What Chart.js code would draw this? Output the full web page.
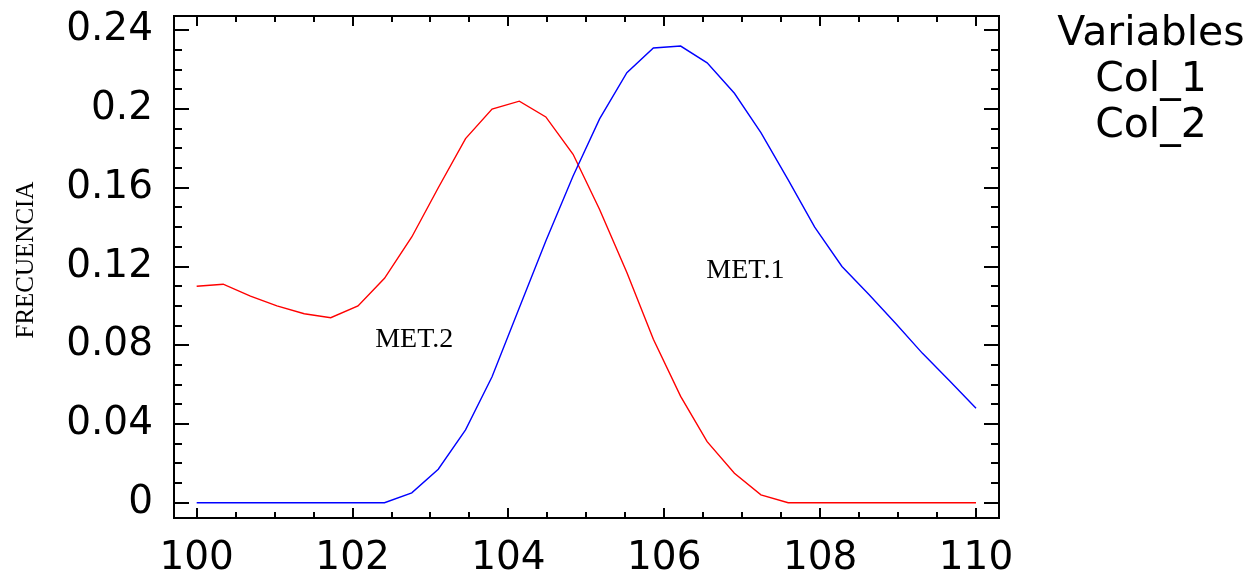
<!DOCTYPE html>
<html>
<head>
    <title>Frecuencia MET.1 / MET.2</title>
    <script src="https://cdn.jsdelivr.net/npm/chart.js"></script>
    <style>
        html, body {
            margin: 0;
            padding: 0;
            background: #ffffff;
        }
        #wrap {
            position: relative;
            width: 1251px;
            height: 573px;
        }
    </style>
</head>
<body>
<div id="wrap"><canvas id="chart"></canvas></div>

<script>
    // x positions of the density points (30 points from 100 to 110)
    var xValues = [100, 100.34, 100.69, 101.03, 101.38, 101.72, 102.07, 102.41, 102.76, 103.10,
        103.45, 103.79, 104.14, 104.48, 104.83, 105.17, 105.52, 105.86, 106.21, 106.55,
        106.90, 107.24, 107.59, 107.93, 108.28, 108.62, 108.97, 109.31, 109.66, 110];

    // Col_1 (blue, MET.1)
    var col1 = [0, 0, 0, 0, 0, 0, 0, 0, 0.005, 0.017,
        0.037, 0.064, 0.099, 0.133, 0.166, 0.195, 0.2185, 0.231, 0.232, 0.2235,
        0.208, 0.188, 0.164, 0.140, 0.120, 0.106, 0.091, 0.076, 0.062, 0.048];

    // Col_2 (red, MET.2)
    var col2 = [0.110, 0.111, 0.105, 0.100, 0.096, 0.094, 0.100, 0.114, 0.135, 0.160,
        0.185, 0.200, 0.204, 0.196, 0.177, 0.149, 0.117, 0.083, 0.054, 0.031,
        0.015, 0.004, 0, 0, 0, 0, 0, 0, 0, 0];

    var xTicks = [100, 102, 104, 106, 108, 110];
    var xTickLabels = ['100', '102', '104', '106', '108', '110'];
    var yTicks = [0, 0.04, 0.08, 0.12, 0.16, 0.2, 0.24];
    var yTickLabels = ['0', '0.04', '0.08', '0.12', '0.16', '0.2', '0.24'];
    var xMinorStep = 0.5;
    var yMinorStep = 0.01;

    var legendLines = ['Variables', 'Col_1', 'Col_2'];
    var yTitle = 'FRECUENCIA';
    // curve labels, placed in data units
    var curveLabels = [
        { text: 'MET.1', x: 106.54, y: 0.114 },
        { text: 'MET.2', x: 102.29, y: 0.079 }
    ];

    // frame, inward ticks on all four sides, labels and legend text
    var decorPlugin = {
        id: 'decor',
        afterDraw: function (chart) {
            var ctx = chart.ctx;
            var a = chart.chartArea;
            var xs = chart.scales.x;
            var ys = chart.scales.y;
            ctx.save();
            ctx.strokeStyle = '#000';
            ctx.lineWidth = 2;
            ctx.strokeRect(a.left, a.top, a.right - a.left, a.bottom - a.top);

            ctx.beginPath();
            for (var v = xTicks[0]; v <= xTicks[xTicks.length - 1] + 1e-9; v += xMinorStep) {
                var px = Math.round(xs.getPixelForValue(v));
                var major = xTicks.some(function (t) { return Math.abs(t - v) < 1e-6; });
                var len = major ? 10 : 6;
                ctx.moveTo(px, a.bottom);
                ctx.lineTo(px, a.bottom - len);
                ctx.moveTo(px, a.top);
                ctx.lineTo(px, a.top + len);
            }
            for (var w = yTicks[0]; w <= yTicks[yTicks.length - 1] + 1e-9; w += yMinorStep) {
                var py = Math.round(ys.getPixelForValue(w));
                var majorY = yTicks.some(function (t) { return Math.abs(t - w) < 1e-6; });
                var lenY = majorY ? 15 : 8;
                ctx.moveTo(a.left, py);
                ctx.lineTo(a.left + lenY, py);
                ctx.moveTo(a.right, py);
                ctx.lineTo(a.right - lenY, py);
            }
            ctx.stroke();

            // curve labels
            ctx.fillStyle = '#000';
            ctx.font = '28px "Liberation Serif", serif';
            ctx.textAlign = 'left';
            ctx.textBaseline = 'alphabetic';
            curveLabels.forEach(function (l) {
                ctx.fillText(l.text, xs.getPixelForValue(l.x), ys.getPixelForValue(l.y));
            });

            // y axis title
            ctx.save();
            ctx.translate(33, 260);
            ctx.rotate(-Math.PI / 2);
            ctx.textAlign = 'center';
            ctx.font = '25px "Liberation Serif", serif';
            ctx.fillText(yTitle, 0, 0);
            ctx.restore();

            // legend block on the right
            ctx.fillStyle = '#000';
            ctx.font = '41px "DejaVu Sans", sans-serif';
            ctx.textAlign = 'center';
            legendLines.forEach(function (t, i) {
                ctx.fillText(t, 1151, 45 + i * 46);
            });
            ctx.restore();
        }
    };

    var ctx = document.getElementById('chart').getContext('2d');
    var chart = new Chart(ctx, {
        type: 'line',
        data: {
            datasets: [{
                label: 'Col_1',
                data: xValues.map(function (x, i) { return { x: x, y: col1[i] }; }),
                borderColor: '#0000ff',
                borderWidth: 1.4,
                pointRadius: 0,
                fill: false,
                tension: 0
            }, {
                label: 'Col_2',
                data: xValues.map(function (x, i) { return { x: x, y: col2[i] }; }),
                borderColor: '#ff0000',
                borderWidth: 1.4,
                pointRadius: 0,
                fill: false,
                tension: 0
            }]
        },
        options: {
            responsive: true,
            maintainAspectRatio: false,
            animation: false,
            layout: {
                padding: { left: 0, top: 16, right: 252, bottom: 0 }
            },
            plugins: {
                legend: { display: false },
                tooltip: { enabled: false }
            },
            scales: {
                x: {
                    type: 'linear',
                    min: 99.709,
                    max: 110.295,
                    grid: { display: false, drawTicks: false },
                    border: { display: false },
                    afterBuildTicks: function (scale) {
                        scale.ticks = xTicks.map(function (v) { return { value: v }; });
                    },
                    afterFit: function (scale) {
                        scale.height = 55;
                        scale.paddingLeft = 0;
                        scale.paddingRight = 0;
                    },
                    ticks: {
                        padding: 17,
                        maxRotation: 0,
                        autoSkip: false,
                        color: '#000',
                        font: { family: '"DejaVu Sans", sans-serif', size: 39 },
                        callback: function (value, index) { return xTickLabels[index]; }
                    }
                },
                y: {
                    type: 'linear',
                    min: -0.00777,
                    max: 0.24727,
                    grid: { display: false, drawTicks: false },
                    border: { display: false },
                    afterBuildTicks: function (scale) {
                        scale.ticks = yTicks.map(function (v) { return { value: v }; });
                    },
                    afterFit: function (scale) {
                        scale.width = 174;
                        scale.paddingTop = 0;
                        scale.paddingBottom = 0;
                    },
                    ticks: {
                        padding: 21,
                        autoSkip: false,
                        color: '#000',
                        font: { family: '"DejaVu Sans", sans-serif', size: 39 },
                        callback: function (value, index) { return yTickLabels[index]; }
                    }
                }
            }
        },
        plugins: [decorPlugin]
    });
</script>
</body>
</html>
